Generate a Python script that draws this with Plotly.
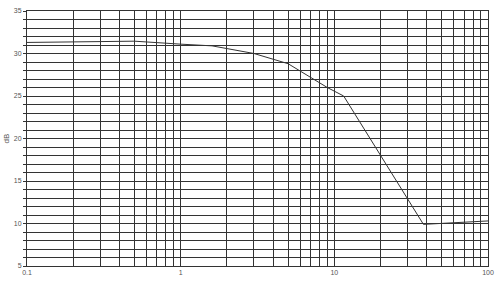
import plotly.graph_objects as go

freq = [0.1, 0.5, 1.0, 1.6, 3.0, 5.0, 9.0, 11.5, 38.0, 100.0]
gain_db = [31.3, 31.45, 31.1, 30.9, 30.0, 28.8, 26.0, 25.0, 9.9, 10.3]

x_labels = {0.1: "0.1", 1: "1", 10: "10", 100: "100"}
x_tickvals = []
x_ticktext = []
for dec in [0.1, 1, 10]:
    for m in range(1, 10):
        v = round(dec * m, 6)
        x_tickvals.append(v)
        x_ticktext.append(x_labels.get(v, ""))
x_tickvals.append(100)
x_ticktext.append("100")

y_tickvals = list(range(5, 36))
y_ticktext = [str(v) if v % 5 == 0 else "" for v in y_tickvals]

grid = "#333333"
fig = go.Figure()
fig.add_trace(go.Scatter(x=freq, y=gain_db, mode="lines",
                         line=dict(color="#333333", width=1)))
fig.update_layout(
    width=500, height=283,
    margin=dict(l=27, r=12, t=11, b=17),
    paper_bgcolor="white", plot_bgcolor="white",
    showlegend=False,
    font=dict(family="Liberation Sans, Arial", size=7, color="#555555"),
)
fig.update_xaxes(type="log", range=[-1, 2], tickvals=x_tickvals, ticktext=x_ticktext,
                 showgrid=True, gridcolor=grid, gridwidth=1,
                 showline=True, linecolor=grid, mirror=True,
                 ticks="", zeroline=False, automargin=False)
fig.update_yaxes(range=[5, 35], tickvals=y_tickvals, ticktext=y_ticktext,
                 showgrid=True, gridcolor=grid, gridwidth=1,
                 showline=True, linecolor=grid, mirror=True,
                 ticks="outside", ticklen=3, tickcolor=grid,
                 title=dict(text="dB", standoff=3, font=dict(size=8, color="#555555")),
                 zeroline=False, automargin=False)
fig.write_html("out.html")
